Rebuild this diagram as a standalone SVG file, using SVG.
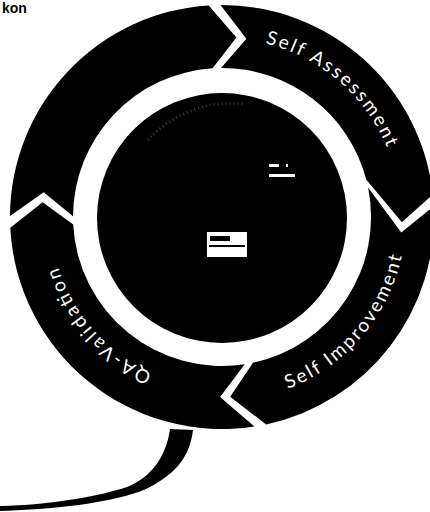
<svg xmlns="http://www.w3.org/2000/svg" width="430" height="512" viewBox="0 0 430 512">
<style>
.seg{fill:#000}
.lbl{fill:#fff;font-family:Lato,"Open Sans",sans-serif;font-size:19px}
.mark{fill:#fff}
</style>
<defs>
<path id="pA" d="M265.3,43.3 A179,179 0 0 1 388.0,149.9"/>
<path id="pB" d="M287.9,388.8 A184,184 0 0 0 402.6,252.1"/>
<path id="pC" d="M152.4,373.2 A171,171 0 0 1 57.6,264.1"/>
</defs>
<rect width="430" height="512" fill="#fff"/>
<text x="2" y="13" font-family="'Liberation Sans',sans-serif" font-weight="bold" font-size="14" fill="#000">kon</text>
<g id="seg-self-assessment">
<path class="seg" d="M220.5,5.0 A212,212 0 0 1 432.8,194.5 L401.9,222.3 L366.2,179.4 A149,149 0 0 0 221.0,68.0 L246.4,38.7 Z"/>
<text class="lbl"><textPath href="#pA" textLength="166" lengthAdjust="spacing">Self Assessment</textPath></text>
</g>
<g id="seg-self-improvement">
<path class="seg" d="M433.7,206.3 A212,212 0 0 1 266.1,424.4 L230.2,396.8 L253.0,362.7 A149,149 0 0 0 368.1,187.5 L401.3,232.4 Z"/>
<text class="lbl"><textPath href="#pB" textLength="182" lengthAdjust="spacing">Self Improvement</textPath></text>
</g>
<g id="seg-qa-validation">
<path class="seg" d="M254.4,426.5 A212,212 0 0 1 10.3,227.7 L42.6,202.3 L73.2,224.5 A149,149 0 0 0 244.8,364.2 L220.1,397.0 Z"/>
<text class="lbl"><textPath href="#pC" textLength="146" lengthAdjust="spacing">QA-Validation</textPath></text>
</g>
<g id="seg-top-left">
<path class="seg" d="M10.0,215.9 A212,212 0 0 1 208.7,5.4 L236.4,37.6 L212.6,68.3 A149,149 0 0 0 73.0,216.2 L43.7,192.3 Z"/>
</g>
<g id="center">
<circle cx="222" cy="218" r="125" fill="#000"/>
<path d="M148,140 A113,113 0 0 1 245,104" fill="none" stroke="#fff" stroke-opacity="0.22" stroke-width="3" stroke-dasharray="1 3"/>
<rect class="mark" x="269" y="164" width="10" height="3"/>
<rect class="mark" x="286" y="164" width="2" height="3"/>
<rect class="mark" x="269" y="174" width="26" height="3"/>
<rect class="mark" x="207" y="232" width="40" height="25"/>
<rect x="210" y="236" width="20" height="5" fill="#000"/>
<rect x="209" y="245" width="36" height="2" fill="#000"/>
</g>
<g id="connectors">
<path d="M170,429 L193,430 C190,455 178,472 150,487 C120,502 60,509 0,511 L0,506 C50,505 100,496 127,487 C150,478 166,458 170,429 Z" fill="#000"/>
</g>
</svg>
